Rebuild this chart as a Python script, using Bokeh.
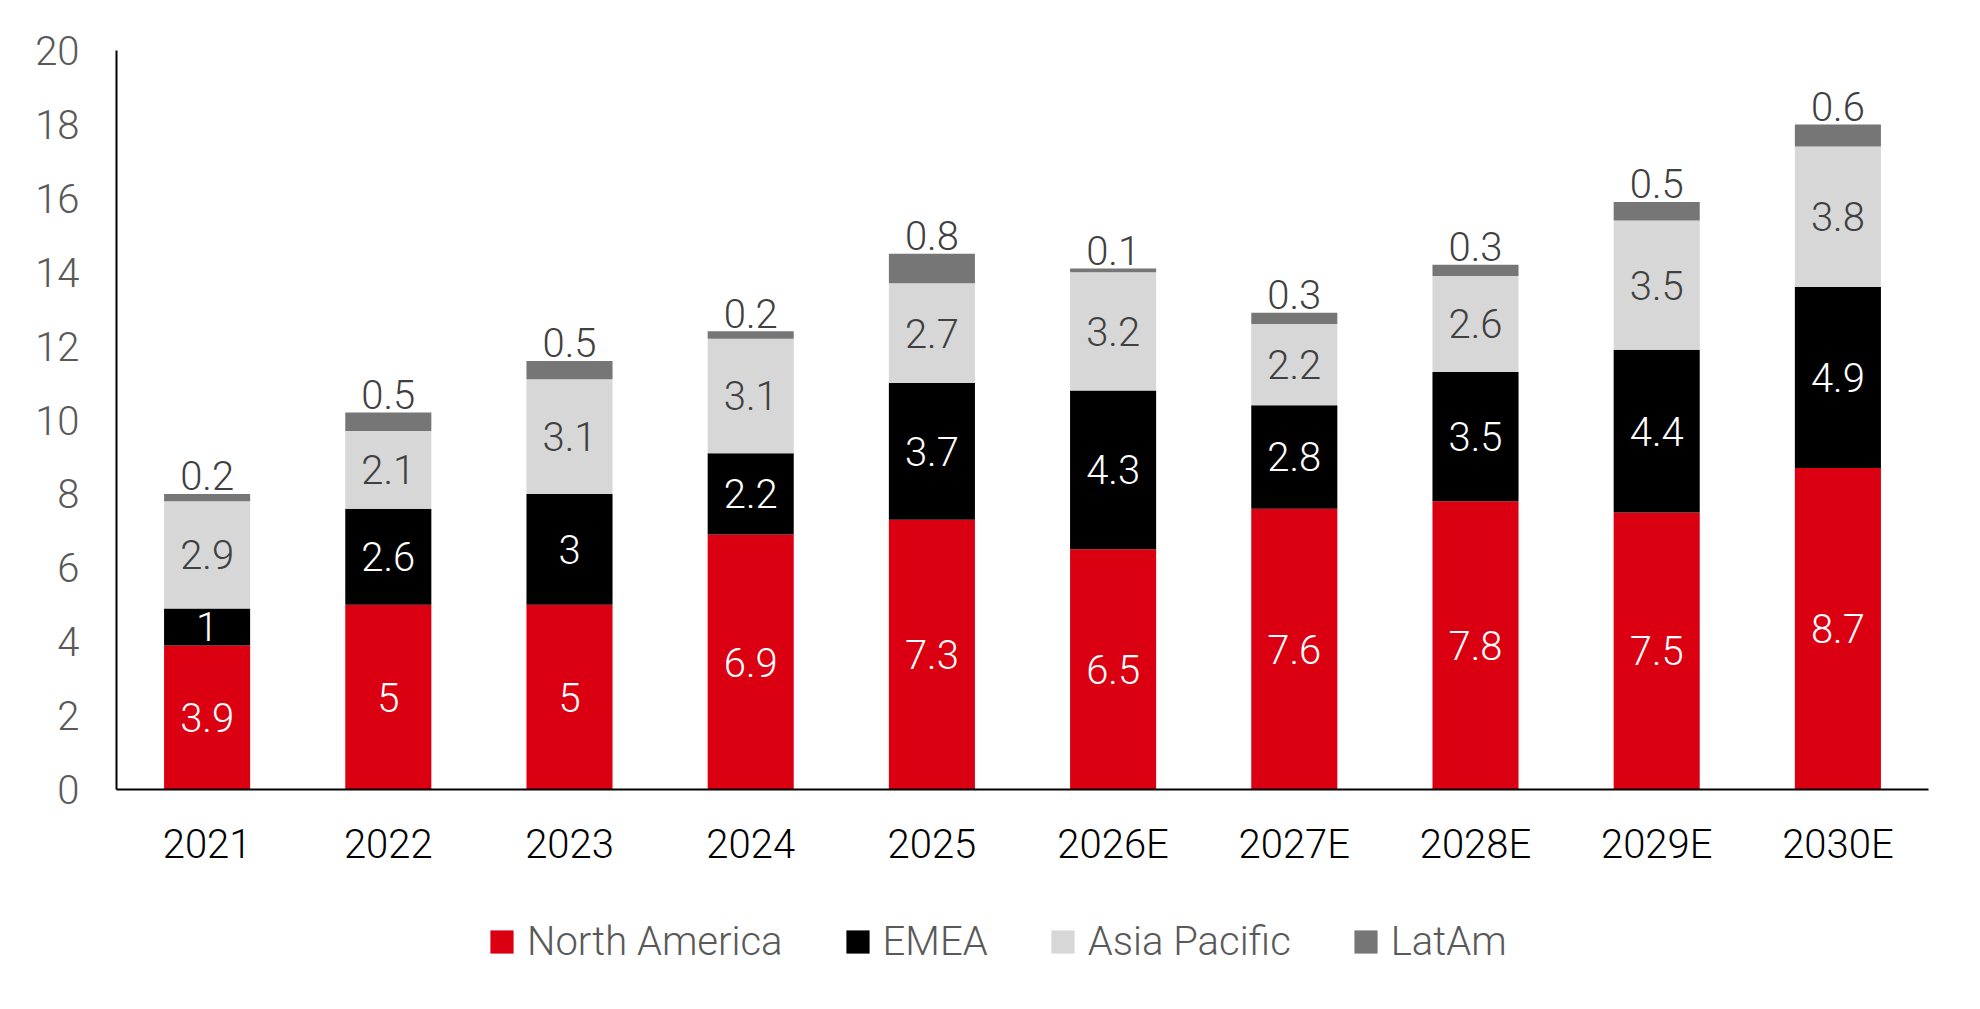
from bokeh.plotting import figure
from bokeh.layouts import column
from bokeh.models import Range1d, FactorRange, FixedTicker, Legend, LegendItem, ColumnDataSource
from bokeh.core.properties import value
from bokeh.embed import file_html
from bokeh.resources import INLINE

years = ["2021", "2022", "2023", "2024", "2025", "2026E", "2027E", "2028E", "2029E", "2030E"]
north_america = [3.9, 5, 5, 6.9, 7.3, 6.5, 7.6, 7.8, 7.5, 8.7]
emea = [1, 2.6, 3, 2.2, 3.7, 4.3, 2.8, 3.5, 4.4, 4.9]
asia_pacific = [2.9, 2.1, 3.1, 3.1, 2.7, 3.2, 2.2, 2.6, 3.5, 3.8]
latam = [0.2, 0.5, 0.5, 0.2, 0.8, 0.1, 0.3, 0.3, 0.5, 0.6]
series_names = ["North America", "EMEA", "Asia Pacific", "LatAm"]
y_ticks = [0, 2, 4, 6, 8, 10, 12, 14, 16, 18, 20]

colors = ["#DB0011", "#000000", "#D7D7D7", "#767676"]
label_colors = ["#FFFFFF", "#FFFFFF", "#404040", "#404040"]
FONT = "Roboto Light"
FS = "40px"

x_range = FactorRange(factors=years)
p = figure(x_range=x_range, y_range=Range1d(0, 20),
           width=1980, height=900, output_backend="svg", toolbar_location=None,
           min_border_left=116, min_border_top=50, min_border_right=52, min_border_bottom=111)
p.outline_line_color = None
p.grid.visible = False
p.background_fill_color = "white"

data = {"year": years}
keys = ["na", "emea", "ap", "latam"]
vals = [north_america, emea, asia_pacific, latam]
for k, v in zip(keys, vals):
    data[k] = v
src = ColumnDataSource(data)

renderers = p.vbar_stack(keys, x="year", width=0.475, source=src, color=colors, line_color=None)

# labels
bottoms = [0.0] * len(years)
for si, v in enumerate(vals):
    tops = [b + x for b, x in zip(bottoms, v)]
    if si < 3:
        ys = [(b + t) / 2 for b, t in zip(bottoms, tops)]
        p.text(x=years, y=ys, text=[f"{x:g}" for x in v], text_align="center",
               text_baseline="middle", text_color=label_colors[si],
               text_font=value(FONT), text_font_size=FS)
    else:
        p.text(x=years, y=tops, text=[f"{x:g}" for x in v], text_align="center",
               text_baseline="middle", y_offset=-18, text_color=label_colors[si],
               text_font=value(FONT), text_font_size=FS)
    bottoms = tops

# axes
p.yaxis.ticker = FixedTicker(ticks=y_ticks)
p.yaxis.major_tick_line_color = None
p.yaxis.minor_tick_line_color = None
p.yaxis.axis_line_color = "black"
p.yaxis.axis_line_width = 2
p.yaxis.major_label_text_font = FONT
p.yaxis.major_label_text_font_size = FS
p.yaxis.major_label_text_color = "#595959"
p.yaxis.major_label_standoff = 31

p.xaxis.major_tick_line_color = None
p.xaxis.minor_tick_line_color = None
p.xaxis.axis_line_color = "black"
p.xaxis.axis_line_width = 2
p.xaxis.major_label_text_font = FONT
p.xaxis.major_label_text_font_size = FS
p.xaxis.major_label_text_color = "#000000"
p.xaxis.major_label_standoff = 25

# legend strip below the chart (hidden proxy renderers supply the swatches)
p2 = figure(x_range=x_range, y_range=Range1d(-2, -1), width=1980, height=109,
            output_backend="svg", toolbar_location=None, x_axis_type=None, y_axis_type=None,
            min_border_left=116, min_border_right=52, min_border_top=0, min_border_bottom=0)
p2.outline_line_color = None
p2.grid.visible = False
proxies = p2.vbar_stack(keys, x="year", width=0.475, source=src, color=colors, line_color=None)
for r in proxies:
    r.visible = False
items = [LegendItem(label=n, renderers=[r]) for n, r in zip(series_names, proxies)]
legend = Legend(items=items, orientation="horizontal", location=(371, 44),
                glyph_width=29, glyph_height=29, label_standoff=11, spacing=60,
                padding=0, margin=0, border_line_color=None, background_fill_alpha=0,
                inactive_fill_alpha=0,
                label_text_font=FONT, label_text_font_size=FS, label_text_color="#595959")
p2.add_layout(legend, "center")

open("out.html", "w").write(file_html(column(p, p2, spacing=0), INLINE))
